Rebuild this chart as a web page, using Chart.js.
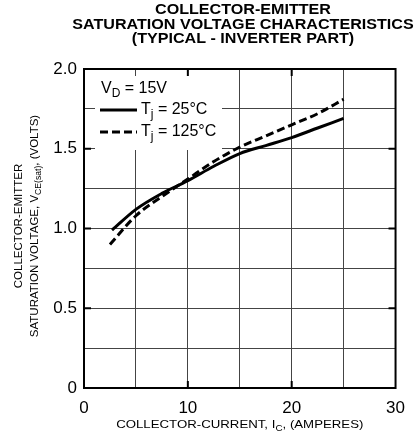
<!DOCTYPE html>
<html lang="en">
<head>
  <meta charset="UTF-8">
  <title>Collector-Emitter Saturation Voltage</title>
  <script src="https://cdn.jsdelivr.net/npm/chart.js"></script>
  <style>
    html, body { margin: 0; padding: 0; background: #fff; }
    #wrap { width: 415px; height: 444px; }
  </style>
</head>
<body>
  <div id="wrap"><canvas id="vceChart"></canvas></div>

  <script>
    // collector current (A) and V_CE(sat) (V)
    const current25 = [2.7, 5, 7.5, 10, 12.5, 15, 17.5, 20, 22.5, 25];
    const vce25 = [0.99, 1.12, 1.22, 1.30, 1.39, 1.47, 1.52, 1.57, 1.63, 1.69];
    const current125 = [2.5, 5, 7.5, 10, 12.5, 15, 17.5, 20, 22.5, 25];
    const vce125 = [0.90, 1.08, 1.20, 1.31, 1.42, 1.51, 1.58, 1.65, 1.72, 1.81];

    const xTickLabels = ['0', '10', '20', '30'];
    const yTickLabels = ['0', '0.5', '1.0', '1.5', '2.0'];
    const xMajor = [10, 20];
    const yMajor = [0.5, 1.0, 1.5];

    const FONT = '"Liberation Sans", Arial, Helvetica, sans-serif';

    // text with subscript pieces; sx stretches it horizontally like the scan
    function richText(ctx, parts, x, y, size, align, sx, weight) {
      sx = sx || 1;
      const w8 = weight ? weight + ' ' : '';
      let w = 0;
      parts.forEach(p => {
        ctx.font = w8 + (p.sub ? size * 0.75 : size) + 'px ' + FONT;
        p.w = ctx.measureText(p.t).width;
        w += p.w;
      });
      ctx.save();
      ctx.translate(x, y);
      ctx.scale(sx, 1);
      let cx = align === 'center' ? -w / 2 : 0;
      ctx.textAlign = 'left';
      ctx.textBaseline = 'middle';
      parts.forEach(p => {
        ctx.font = w8 + (p.sub ? size * 0.75 : size) + 'px ' + FONT;
        ctx.fillText(p.t, cx, p.sub ? size * 0.28 : 0);
        cx += p.w;
      });
      ctx.restore();
    }

    const decor = {
      id: 'decor',
      beforeDatasetsDraw(chart) {
        const ctx = chart.ctx;
        ctx.save();
        ctx.fillStyle = '#fff';
        ctx.fillRect(95, 76, 127, 74);
        ctx.restore();
      },
      afterDraw(chart) {
        const ctx = chart.ctx;
        const a = chart.chartArea;
        const xs = chart.scales.x, ys = chart.scales.y;
        ctx.save();
        ctx.fillStyle = '#000';
        ctx.strokeStyle = '#000';

        // frame
        ctx.lineWidth = 2;
        ctx.strokeRect(a.left, a.top, a.right - a.left, a.bottom - a.top);

        // major inward ticks
        xMajor.forEach(v => {
          const px = xs.getPixelForValue(v);
          ctx.beginPath();
          ctx.moveTo(px, a.top); ctx.lineTo(px, a.top + 7);
          ctx.moveTo(px, a.bottom); ctx.lineTo(px, a.bottom - 7);
          ctx.stroke();
        });
        yMajor.forEach(v => {
          const py = ys.getPixelForValue(v);
          ctx.beginPath();
          ctx.moveTo(a.left, py); ctx.lineTo(a.left + 7, py);
          ctx.moveTo(a.right, py); ctx.lineTo(a.right - 7, py);
          ctx.stroke();
        });

        // title
        const tx = 243;
        richText(ctx, [{ t: 'COLLECTOR-EMITTER' }], tx, 10, 14, 'center', 1.15, 'bold');
        richText(ctx, [{ t: 'SATURATION VOLTAGE CHARACTERISTICS' }], tx, 25, 14, 'center', 1.15, 'bold');
        richText(ctx, [{ t: '(TYPICAL - INVERTER PART)' }], tx, 39, 14, 'center', 1.15, 'bold');

        // x axis title
        richText(ctx, [{ t: 'COLLECTOR-CURRENT, I' }, { t: 'C', sub: true }, { t: ', (AMPERES)' }],
          (a.left + a.right) / 2, 425, 11.5, 'center', 1.15);

        // y axis title
        ctx.save();
        ctx.rotate(-Math.PI / 2);
        const cy = -226;
        richText(ctx, [{ t: 'COLLECTOR-EMITTER' }], cy, 19, 11.5, 'center');
        richText(ctx, [{ t: 'SATURATION VOLTAGE, V' }, { t: 'CE(sat)', sub: true }, { t: ', (VOLTS)' }],
          cy, 35, 11.5, 'center');
        ctx.restore();

        // legend
        richText(ctx, [{ t: 'V' }, { t: 'D', sub: true }, { t: ' = 15V' }], 101, 89, 16, 'left');
        ctx.lineWidth = 3;
        ctx.beginPath();
        ctx.moveTo(100, 110); ctx.lineTo(137, 110);
        ctx.stroke();
        ctx.setLineDash([8, 4]);
        ctx.beginPath();
        ctx.moveTo(100, 132); ctx.lineTo(137, 132);
        ctx.stroke();
        ctx.setLineDash([]);
        richText(ctx, [{ t: 'T' }, { t: 'j', sub: true }, { t: ' = 25°C' }], 141, 110, 16, 'left');
        richText(ctx, [{ t: 'T' }, { t: 'j', sub: true }, { t: ' = 125°C' }], 141, 132, 16, 'left');
        ctx.restore();
      }
    };

    const ctx = document.getElementById('vceChart').getContext('2d');
    new Chart(ctx, {
      type: 'line',
      data: {
        datasets: [
          {
            label: 'Tj = 25°C',
            data: current25.map((x, i) => ({ x, y: vce25[i] })),
            borderColor: '#000',
            borderWidth: 3,
            pointRadius: 0,
            cubicInterpolationMode: 'monotone',
            fill: false
          },
          {
            label: 'Tj = 125°C',
            data: current125.map((x, i) => ({ x, y: vce125[i] })),
            borderColor: '#000',
            borderWidth: 3,
            borderDash: [8, 4],
            pointRadius: 0,
            cubicInterpolationMode: 'monotone',
            fill: false
          }
        ]
      },
      options: {
        responsive: true,
        maintainAspectRatio: false,
        animation: false,
        layout: { padding: { top: 69, right: 11, left: 0, bottom: 0 } },
        plugins: { legend: { display: false }, tooltip: { enabled: false } },
        scales: {
          x: {
            type: 'linear',
            min: 0, max: 30,
            afterFit: s => { s.height = 56; },
            border: { display: false },
            grid: { color: '#444', lineWidth: 1, drawTicks: false },
            ticks: {
              stepSize: 5,
              padding: 10,
              color: '#000',
              font: { family: FONT, size: 17 },
              maxRotation: 0,
              callback: v => xTickLabels[xTickLabels.indexOf(String(v))] || ''
            }
          },
          y: {
            min: 0, max: 2,
            afterFit: s => { s.width = 84; },
            border: { display: false },
            grid: { color: '#444', lineWidth: 1, drawTicks: false },
            ticks: {
              stepSize: 0.25,
              padding: 7,
              color: '#000',
              font: { family: FONT, size: 17 },
              callback: v => (Math.abs(v * 2 - Math.round(v * 2)) < 1e-6) ? yTickLabels[Math.round(v * 2)] : ''
            }
          }
        }
      },
      plugins: [decor]
    });
  </script>
</body>
</html>
